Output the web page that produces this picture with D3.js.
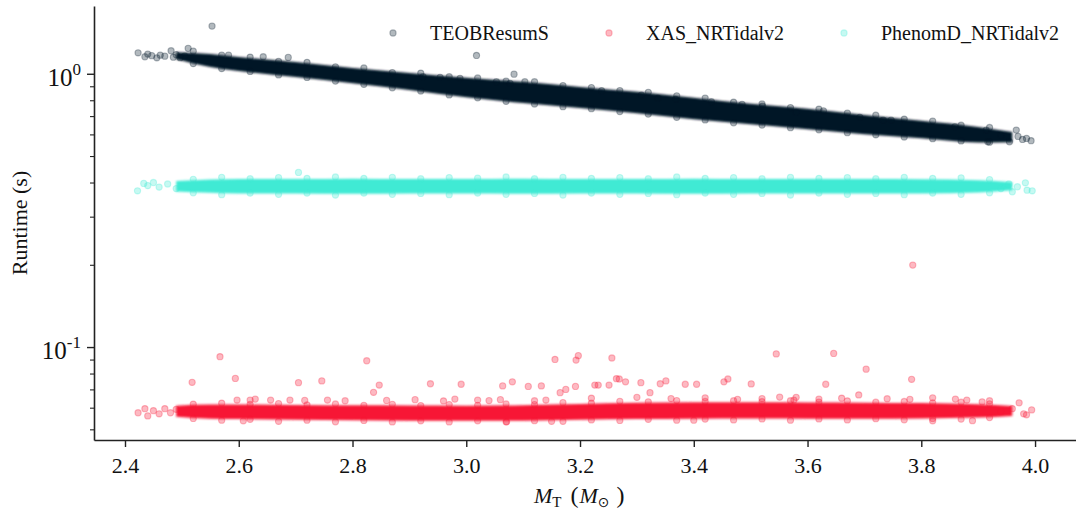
<!DOCTYPE html>
<html>
<head>
<meta charset="utf-8">
<script src="https://cdn.jsdelivr.net/npm/d3@7/dist/d3.min.js"></script>
<style>
  html, body { margin: 0; padding: 0; background: #ffffff; }
  svg { display: block; }
  text { font-family: "Liberation Serif", "Times New Roman", serif; fill: #111; }
</style>
</head>
<body>
<svg id="chart" width="1076" height="517"></svg>
<script>
// ---------------- data ----------------
const seriesNames = ["TEOBResumS", "XAS_NRTidalv2", "PhenomD_NRTidalv2"];
const seriesColors = ["#011627", "#F71735", "#41EAD4"];

const xTicks = [2.4, 2.6, 2.8, 3.0, 3.2, 3.4, 3.6, 3.8, 4.0];
const yMajorTicks = [0.1, 1];
const yMajorExp = ["-1", "0"];
const yMinorTicks = [0.05, 0.06, 0.07, 0.08, 0.09, 0.2, 0.3, 0.4, 0.5, 0.6, 0.7, 0.8, 0.9];

// dense core of each cloud: mass samples with upper / lower runtime of the saturated band
const bandMass = [2.49, 2.55, 2.6, 2.7, 2.8, 2.9, 3.0, 3.1, 3.2, 3.3, 3.4, 3.5, 3.6, 3.7, 3.8, 3.9, 3.96];
const teobBandHigh = [1.200, 1.182, 1.152, 1.104, 1.050, 1.007, 0.966, 0.934, 0.895, 0.859, 0.817, 0.776, 0.745, 0.707, 0.673, 0.639, 0.612];
const teobBandLow  = [1.130, 1.059, 1.024, 0.973, 0.924, 0.872, 0.821, 0.781, 0.749, 0.717, 0.682, 0.654, 0.626, 0.601, 0.581, 0.561, 0.562];
const xasBandHigh  = [0.0610, 0.0616, 0.0616, 0.0614, 0.0612, 0.0611, 0.0610, 0.0613, 0.0619, 0.0625, 0.0628, 0.0628, 0.0627, 0.0626, 0.0624, 0.0618, 0.0608];
const xasBandLow   = [0.0556, 0.0547, 0.0545, 0.0542, 0.0540, 0.0538, 0.0538, 0.0538, 0.0542, 0.0545, 0.0547, 0.0548, 0.0547, 0.0547, 0.0548, 0.0552, 0.0560];
const phenomBandHigh = [0.405, 0.410, 0.412, 0.412, 0.413, 0.412, 0.412, 0.413, 0.412, 0.412, 0.413, 0.412, 0.412, 0.412, 0.411, 0.408, 0.401];
const phenomBandLow  = [0.371, 0.367, 0.365, 0.365, 0.364, 0.365, 0.365, 0.364, 0.365, 0.365, 0.364, 0.365, 0.365, 0.365, 0.365, 0.368, 0.375];

// individual points on the fuzzy edges of each band
const fringeMass = [2.52, 2.57, 2.62, 2.67, 2.72, 2.77, 2.82, 2.87, 2.92, 2.97, 3.02, 3.07, 3.12, 3.17, 3.22, 3.27, 3.32, 3.37, 3.42, 3.47, 3.52, 3.57, 3.62, 3.67, 3.72, 3.77, 3.82, 3.87, 3.92];
const teobFringeHigh = [1.21, 1.17, 1.15, 1.11, 1.10, 1.06, 1.05, 1.01, 1.005, 0.975, 0.965, 0.94, 0.935, 0.905, 0.89, 0.868, 0.855, 0.83, 0.815, 0.787, 0.775, 0.752, 0.742, 0.718, 0.705, 0.682, 0.671, 0.648, 0.636];
const teobFringeLow  = [1.09, 1.045, 1.02, 0.99, 0.97, 0.94, 0.915, 0.888, 0.865, 0.837, 0.817, 0.793, 0.775, 0.758, 0.745, 0.727, 0.712, 0.693, 0.678, 0.662, 0.649, 0.635, 0.624, 0.609, 0.598, 0.587, 0.579, 0.568, 0.562];
const xasFringeHigh  = [0.0618, 0.0623, 0.0617, 0.0621, 0.0614, 0.0619, 0.0612, 0.0617, 0.0611, 0.0616, 0.0612, 0.0619, 0.0616, 0.0626, 0.0623, 0.0633, 0.0630, 0.0637, 0.0632, 0.0636, 0.0631, 0.0636, 0.0629, 0.0635, 0.0628, 0.0632, 0.0625, 0.0628, 0.0620];
const xasFringeLow   = [0.0548, 0.0540, 0.0544, 0.0535, 0.0540, 0.0533, 0.0539, 0.0532, 0.0537, 0.0532, 0.0537, 0.0533, 0.0538, 0.0535, 0.0541, 0.0539, 0.0544, 0.0540, 0.0545, 0.0541, 0.0546, 0.0540, 0.0546, 0.0541, 0.0547, 0.0542, 0.0548, 0.0545, 0.0552];
const phenomFringeHigh = [0.411, 0.418, 0.413, 0.417, 0.414, 0.419, 0.414, 0.418, 0.413, 0.417, 0.415, 0.419, 0.413, 0.418, 0.414, 0.417, 0.413, 0.419, 0.414, 0.417, 0.413, 0.418, 0.414, 0.417, 0.413, 0.418, 0.414, 0.416, 0.410];
const phenomFringeLow  = [0.367, 0.361, 0.366, 0.362, 0.366, 0.360, 0.366, 0.362, 0.365, 0.361, 0.366, 0.362, 0.365, 0.360, 0.366, 0.362, 0.365, 0.361, 0.366, 0.362, 0.365, 0.360, 0.366, 0.362, 0.365, 0.361, 0.366, 0.362, 0.367];

// sparse ends and outliers: [total mass, runtime]
const teobExtra = [
  [2.423, 1.193], [2.435, 1.154], [2.44, 1.18], [2.447, 1.165], [2.456, 1.144], [2.462, 1.17], [2.47, 1.16],
  [2.481, 1.214], [2.485, 1.15], [2.49, 1.175], [2.497, 1.145], [2.511, 1.239], [2.505, 1.16],
  [2.553, 1.494], [3.018, 1.167], [3.084, 0.997], [3.103, 0.935], [2.582, 1.17], [2.643, 1.154], [2.687, 1.148],
  [2.924, 0.975], [2.954, 0.970], [2.989, 0.962], [3.053, 0.935], [3.077, 0.922], [3.238, 0.867], [3.308, 0.836],
  [3.337, 0.813], [3.368, 0.806], [3.431, 0.790], [3.485, 0.773], [3.521, 0.762], [3.580, 0.722], [3.628, 0.732],
  [3.692, 0.693], [3.733, 0.677], [3.747, 0.677], [3.859, 0.640], [3.914, 0.622],
  [3.955, 0.564], [3.967, 0.622], [3.978, 0.575], [3.993, 0.569], [3.985, 0.58], [3.97, 0.59], [3.917, 0.564], [3.94, 0.595]
];
const xasExtra = [
  [2.423, 0.0575], [2.435, 0.0595], [2.44, 0.056], [2.45, 0.0585], [2.46, 0.057], [2.47, 0.0595], [2.48, 0.0575], [2.49, 0.0592],
  [3.94, 0.058], [3.96, 0.0595], [3.98, 0.057], [3.994, 0.0589], [3.985, 0.0565],
  [2.567, 0.0922], [2.518, 0.0743], [2.594, 0.0768], [2.705, 0.0741], [2.746, 0.0752], [2.597, 0.0640], [2.620, 0.0640],
  [2.629, 0.0645], [2.656, 0.0640], [2.690, 0.0640], [2.716, 0.0638], [2.756, 0.0640], [2.787, 0.0636], [2.825, 0.0891],
  [2.837, 0.0683], [2.847, 0.0726], [2.937, 0.0734], [2.991, 0.0731], [3.064, 0.0721], [3.081, 0.0746], [3.109, 0.0718],
  [3.132, 0.0721], [3.156, 0.0901], [3.165, 0.0681], [3.175, 0.0700], [3.193, 0.0896], [3.197, 0.0930], [3.192, 0.0718],
  [3.226, 0.0726], [3.232, 0.0726], [3.256, 0.0912], [3.251, 0.0726], [3.264, 0.0766], [3.269, 0.0764], [3.280, 0.0746],
  [3.307, 0.0741], [3.323, 0.0681], [3.341, 0.0734], [3.351, 0.0752], [3.385, 0.0731], [3.405, 0.0731], [3.453, 0.0746],
  [3.460, 0.0764], [3.501, 0.0733], [3.545, 0.0944], [3.551, 0.0656], [3.632, 0.0731], [3.646, 0.0948], [3.690, 0.0668],
  [3.703, 0.0830], [3.783, 0.0762], [3.785, 0.1995], [3.477, 0.0644], [3.576, 0.0640], [3.860, 0.0645], [3.907, 0.0630],
  [3.972, 0.0625],
  [2.86, 0.0638], [2.91, 0.0642], [2.96, 0.0635], [2.98, 0.0645], [3.02, 0.0640], [3.04, 0.0637], [3.06, 0.0642],
  [3.12, 0.0636], [3.14, 0.0640], [3.22, 0.0650], [3.30, 0.0655], [3.36, 0.0648], [3.42, 0.0652], [3.52, 0.0648],
  [3.58, 0.0655], [3.62, 0.0645], [3.66, 0.0650], [3.74, 0.0647], [3.78, 0.0644], [3.82, 0.0652], [3.88, 0.0640], [3.92, 0.0636],
  [3.071, 0.0533], [2.608, 0.0537], [3.15, 0.0535], [3.82, 0.0537], [3.89, 0.0538], [3.40, 0.0540]
];
const phenomExtra = [
  [2.705, 0.4357], [2.422, 0.373], [2.433, 0.397], [2.44, 0.39], [2.45, 0.40], [2.46, 0.385], [2.475, 0.395], [2.49, 0.38],
  [3.986, 0.375], [3.983, 0.399], [3.954, 0.395], [3.969, 0.386], [3.995, 0.373], [3.94, 0.38], [3.96, 0.37]
];

// ---------------- drawing ----------------
const W = 1076, H = 517;
const margin = { left: 94, right: 0, top: 6, bottom: 77 };
const svg = d3.select("#chart");

const defs = svg.append("defs");
defs.append("filter").attr("id", "soft")
  .attr("filterUnits", "userSpaceOnUse").attr("x", 0).attr("y", 0).attr("width", W).attr("height", H)
  .append("feGaussianBlur").attr("stdDeviation", 1.3);

const x = d3.scaleLinear().domain([2.3455, 4.072]).range([margin.left, W - margin.right]);
const y = d3.scaleLog().domain([0.0457, 1.77]).range([H - margin.bottom, margin.top]);

const R = 3.1;
function drawSeries(color, high, low, fHigh, fLow, extra) {
  const g = svg.append("g");
  const rows = bandMass.map((m, i) => ({ m, hi: high[i], lo: low[i] }));
  g.append("path")
    .datum(rows)
    .attr("d", d3.area().x(d => x(d.m)).y0(d => y(d.lo)).y1(d => y(d.hi)).curve(d3.curveMonotoneX))
    .attr("fill", color)
    .attr("filter", "url(#soft)");
  const pts = [];
  fringeMass.forEach((m, i) => { pts.push([m, fHigh[i]]); pts.push([m, fLow[i]]); });
  extra.forEach(p => pts.push(p));
  g.selectAll("circle").data(pts).join("circle")
    .attr("cx", d => x(d[0])).attr("cy", d => y(d[1])).attr("r", R)
    .attr("fill", color).attr("fill-opacity", 0.3)
    .attr("stroke", color).attr("stroke-opacity", 0.3).attr("stroke-width", 1.1);
}
drawSeries(seriesColors[0], teobBandHigh, teobBandLow, teobFringeHigh, teobFringeLow, teobExtra);
drawSeries(seriesColors[1], xasBandHigh, xasBandLow, xasFringeHigh, xasFringeLow, xasExtra);
drawSeries(seriesColors[2], phenomBandHigh, phenomBandLow, phenomFringeHigh, phenomFringeLow, phenomExtra);

// axes
const axisColor = "#222";
const xAxis = svg.append("g").attr("transform", `translate(0,${H - margin.bottom})`)
  .call(d3.axisBottom(x).tickValues(xTicks).tickFormat(d3.format(".1f")).tickSize(7).tickSizeOuter(0).tickPadding(10));
xAxis.select(".domain").attr("stroke", axisColor).attr("stroke-width", 1.6);
xAxis.selectAll(".tick line").attr("stroke", axisColor).attr("stroke-width", 1.4);
xAxis.selectAll(".tick text").attr("font-size", 22).attr("font-family", "Liberation Serif").attr("fill", "#111").attr("dy", "0.71em");

const yAxis = svg.append("g").attr("transform", `translate(${margin.left},0)`)
  .call(d3.axisLeft(y).tickValues(yMajorTicks).tickFormat("").tickSize(7).tickSizeOuter(0));
yAxis.select(".domain").attr("stroke", axisColor).attr("stroke-width", 1.6);
yAxis.selectAll(".tick line").attr("stroke", axisColor).attr("stroke-width", 1.4);
yAxis.selectAll(".tick text").remove();

const yMinor = svg.append("g").attr("transform", `translate(${margin.left},0)`)
  .call(d3.axisLeft(y).tickValues(yMinorTicks.filter(v => v > y.domain()[0] && v < y.domain()[1])).tickFormat("").tickSize(4).tickSizeOuter(0));
yMinor.select(".domain").remove();
yMinor.selectAll(".tick line").attr("stroke", axisColor).attr("stroke-width", 1.1);

yMajorTicks.forEach((v, i) => {
  const t = svg.append("text")
    .attr("x", margin.left - 13).attr("y", y(v) + 12)
    .attr("text-anchor", "end").attr("font-size", 25);
  t.append("tspan").text("10");
  t.append("tspan").attr("dy", -11).attr("font-size", 17).text(yMajorExp[i]);
});

// axis labels
svg.append("text")
  .attr("transform", `translate(27,${(margin.top + H - margin.bottom) / 2}) rotate(-90)`)
  .attr("text-anchor", "middle").attr("font-size", 22)
  .text("Runtime (s)");

const xl = svg.append("text").attr("x", 534).attr("y", 503).attr("font-size", 22);
xl.append("tspan").attr("font-style", "italic").text("M");
xl.append("tspan").attr("font-size", 15).attr("dy", 4).text("T");
xl.append("tspan").attr("font-size", 24).attr("dy", -4).attr("dx", 9).text("(");
xl.append("tspan").attr("font-style", "italic").attr("dx", 1).text("M");
xl.append("tspan").attr("font-size", 14).attr("dy", 4).attr("font-family", "DejaVu Sans").text("\u2299");
xl.append("tspan").attr("font-size", 24).attr("dy", -4).attr("dx", 7).text(")");

// legend
const legendX = [393, 609, 844];
seriesNames.forEach((name, i) => {
  svg.append("circle").attr("cx", legendX[i]).attr("cy", 33).attr("r", R)
    .attr("fill", seriesColors[i]).attr("fill-opacity", 0.3)
    .attr("stroke", seriesColors[i]).attr("stroke-opacity", 0.3).attr("stroke-width", 1.1);
  svg.append("text").attr("x", legendX[i] + 37).attr("y", 40).attr("font-size", 20).text(name);
});
</script>
</body>
</html>
